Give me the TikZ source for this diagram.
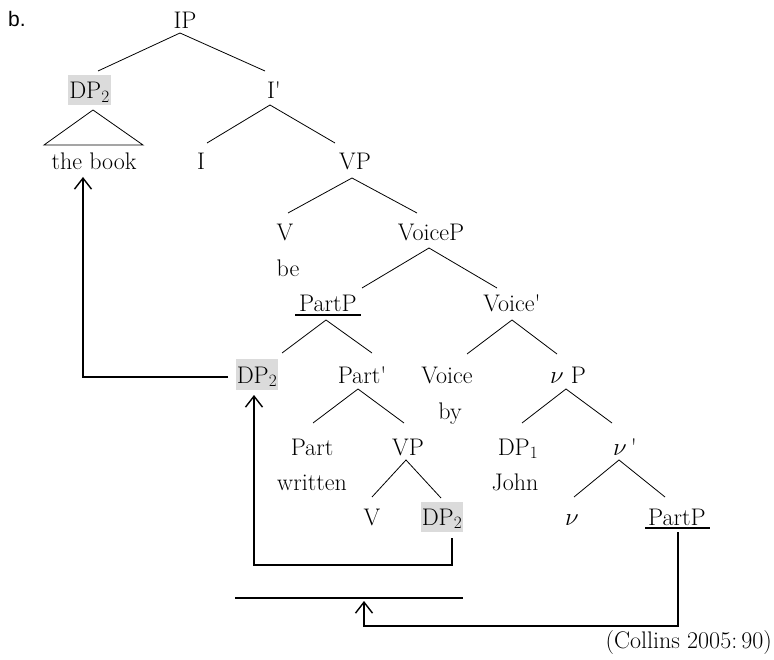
\documentclass[tikz,border=0pt]{standalone}
\usepackage{fontspec}
\newfontfamily\labelfont{Liberation Sans}
\usetikzlibrary{arrows.meta}
\begin{document}
\begin{tikzpicture}[x=1pt,y=-1pt,
  every node/.style={font=\fontsize{24}{28}\selectfont, inner sep=0pt, anchor=base},
  hl/.style={fill=black!14, text height=22pt, text depth=5pt, inner xsep=1pt, inner ysep=1.5pt},
  br/.style={line width=0.8pt},
  ul/.style={line width=1.3pt},
  arr/.style={line width=1.4pt, -{Straight Barb[length=11pt,width=17pt,line width=1.4pt]}},
  plain/.style={line width=1.4pt}
]
\useasboundingbox (0,0) rectangle (774,660);

% label
\node[font=\labelfont\fontsize{21}{24}\selectfont] (lab) at (17,27) {b.};

% nodes
\node (IP) at (185,29) {IP};
\node[hl] (DPa) at (89.5,99) {DP$_2$};
\node (Ibar) at (274,99) {I\textquotesingle};
\node (book) at (94,170) {the book};
\node (I) at (201,170) {I};
\node (VPa) at (355,170) {VP};
\node (Va) at (285,241) {V};
\node (be) at (288,277) {be};
\node (VoiceP) at (431,241) {VoiceP};
\node (PartPa) at (328,312) {PartP};
\node (Voicebar) at (512,312) {Voice\textquotesingle};
\node[hl] (DPb) at (257,383) {DP$_2$};
\node (Partbar) at (362,383) {Part\textquotesingle};
\node (Voice) at (447,383) {Voice};
\node (by) at (450,419) {by};
\node (vP) at (568,383) {$\nu$ P};
\node (Part) at (312,455) {Part};
\node (VPb) at (408,455) {VP};
\node (DPone) at (518,455) {DP$_1$};
\node (vbar) at (625,455) {$\nu$\,\textquotesingle};
\node (written) at (312,490) {written};
\node (John) at (515,490) {John};
\node (Vb) at (372,525) {V};
\node[hl] (DPc) at (442,525) {DP$_2$};
\node (nu) at (572,525) {$\nu$};
\node (PartPb) at (677,525) {PartP};
\node[anchor=base east] (src) at (772,648) {(Collins 2005:\,90)};

% underlines
\draw[ul] ([shift={(-33,3)}]PartPa.base) -- ([shift={(33,3)}]PartPa.base);
\draw[ul] ([shift={(-32,3)}]PartPb.base) -- ([shift={(33,3)}]PartPb.base);

% branches
\draw[br] ([shift={(8.5,-28)}]DPa.base) -- ([shift={(-5,4)}]IP.base) -- ([shift={(-9,-28)}]Ibar.base);
\draw[br] ([shift={(-50,-25)}]book.base) -- ([shift={(3.5,11)}]DPa.base) -- ([shift={(49,-25)}]book.base) -- cycle;
\draw[br] ([shift={(6,-27)}]I.base) -- ([shift={(-4,6)}]Ibar.base) -- ([shift={(-20,-27)}]VPa.base);
\draw[br] ([shift={(3,-28)}]Va.base) -- ([shift={(-3,8)}]VPa.base) -- ([shift={(-14,-28)}]VoiceP.base);
\draw[br] ([shift={(34,-24)}]PartPa.base) -- ([shift={(-2,7)}]VoiceP.base) -- ([shift={(-15,-24)}]Voicebar.base);
\draw[br] ([shift={(25,-30)}]DPb.base) -- ([shift={(-2,8)}]PartPa.base) -- ([shift={(10,-30)}]Partbar.base);
\draw[br] ([shift={(20,-29)}]Voice.base) -- ([shift={(0,8)}]Voicebar.base) -- ([shift={(-11,-29)}]vP.base);
\draw[br] ([shift={(1,-32)}]Part.base) -- ([shift={(-4,6)}]Partbar.base) -- ([shift={(-4,-32)}]VPb.base);
\draw[br] ([shift={(4,-32)}]DPone.base) -- ([shift={(-2,6)}]vP.base) -- ([shift={(-13,-32)}]vbar.base);
\draw[br] ([shift={(0,-28)}]Vb.base) -- ([shift={(-2,5)}]VPb.base) -- ([shift={(-1,-27)}]DPc.base);
\draw[br] ([shift={(2,-28)}]nu.base) -- ([shift={(-6,5)}]vbar.base) -- ([shift={(-12,-28)}]PartPb.base);

% movement arrows
\coordinate (hlL) at (235,598);
\coordinate (hlR) at (463,598);
\coordinate (tip3) at (364,601);
\draw[plain] (hlL) -- (hlR);
\draw[arr] ([shift={(-29,-6)}]DPb.base) -| ([shift={(-11,7)}]book.base);
\draw[arr] ([shift={(10,13)}]DPc.base) -- ++(0,27) -| ([shift={(-3,12)}]DPb.base);
\draw[arr] ([shift={(1,7)}]PartPb.base) -- ++(0,94) -| (tip3);
\end{tikzpicture}
\end{document}
